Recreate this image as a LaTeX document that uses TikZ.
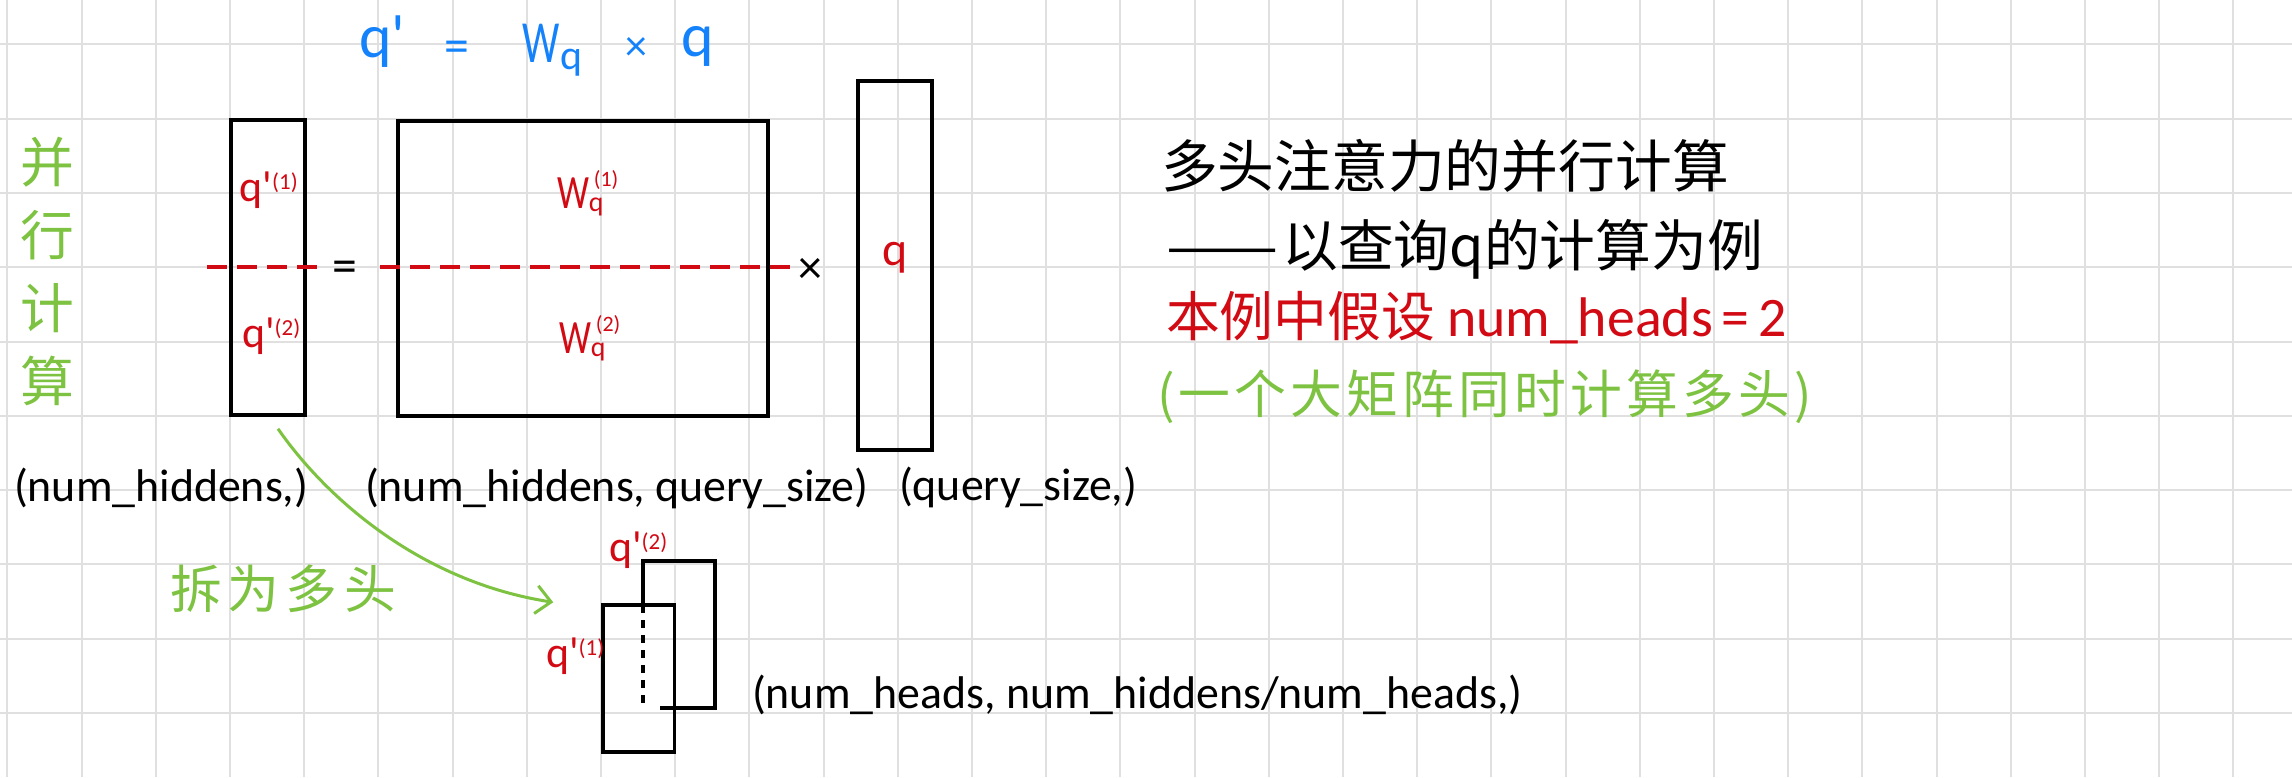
\documentclass[tikz,border=0pt]{standalone}
\usepackage{graphicx}
\usepackage{fontspec}
\setmainfont{Carlito}
\newfontfamily\cjk{Noto Sans CJK SC}
\usetikzlibrary{arrows.meta,calc}
\definecolor{gridc}{RGB}{224,224,224}
\definecolor{hblue}{RGB}{20,130,250}
\definecolor{hred}{RGB}{210,10,20}
\definecolor{hgreen}{RGB}{125,195,65}
\newcommand\setfs[1]{\fontsize{#1}{#1}\selectfont}
\newcommand\qp[1]{q\textquotesingle\raisebox{12bp}{\setfs{23}(#1)}}
\newcommand\Wq[1]{\scalebox{0.75}[1]{W}\makebox[0pt][l]{\raisebox{-3bp}{\setfs{28}q}}\hspace{5bp}\raisebox{22bp}{\setfs{22}(#1)}}
\begin{document}
\begin{tikzpicture}[x=1bp,y=-1bp,
  gridline/.style={draw=gridc,line width=2bp},
  mbox/.style={draw=black,line width=3.5bp,inner sep=0pt,rectangle},
  boxline/.style={draw=black,line width=3.5bp},
  txt/.style={inner sep=0pt,outer sep=0pt},
  reddash/.style={draw=hred,line width=3.5bp,dash pattern=on 20bp off 10bp},
  garrow/.style={draw=hgreen,line width=3bp,-{Straight Barb[length=15bp,width=28bp]}}]
\fill[white] (0,0) rectangle (2292,777);
\useasboundingbox (0,0) rectangle (2292,777);
% grid
\foreach \i in {0,...,30} \draw[gridline] ({7.4+74.2*\i},0) -- ({7.4+74.2*\i},777);
\foreach \j in {0,...,9} \draw[gridline] (0,{44.3+74.3*\j}) -- (2292,{44.3+74.3*\j});
% blue formula
\node[txt,hblue,anchor=base west,font=\setfs{62}] (fq1) at (359.5,58) {q\textquotesingle};
\node[txt,hblue,anchor=base,font=\setfs{50}] (feq) at (457,63) {=};
\node[txt,hblue,anchor=base west,font=\setfs{60}] (fW) at (522,63) {\scalebox{0.7}[1]{W}};
\node[txt,hblue,anchor=base west,font=\setfs{42}] (fWq) at (560.5,70) {q};
\node[txt,hblue,anchor=base,font=\setfs{44}] (ftimes) at (636,60.6) {×};
\node[txt,hblue,anchor=base west,font=\setfs{62}] (fq2) at (681.5,57) {q};
% vertical green
\node[txt,hgreen,align=center,font={\cjk\fontsize{54}{73}\selectfont}] (par) at (47,271.5) {并\\行\\计\\算};
% boxes
\node[mbox,minimum width=74bp,minimum height=295bp] (qcol) at (268,267.5) {};
\node[mbox,minimum width=370bp,minimum height=295bp] (Wbox) at (583,268.5) {};
\node[mbox,minimum width=74bp,minimum height=369bp] (qbox) at (895,265.5) {};
\node[inner sep=0pt,minimum width=72bp,minimum height=147bp] (b2) at (679,634.5) {};
\draw[boxline] (b2.west |- 0,605) -- (b2.north west) -- (b2.north east) -- (b2.south east) -- ($(b2.south east)+(-55,0)$);
\draw[boxline,dash pattern=on 8bp off 7bp] (b2.west |- 0,605) -- (b2.south west);
\node[mbox,minimum width=71.5bp,minimum height=147bp] (b1) at (638.75,678.5) {};
% red labels
\node[txt,hred,anchor=base west,font=\setfs{44}] (l1) at (239.5,201) {\qp{1}};
\node[txt,hred,anchor=base west,font=\setfs{44}] (l2) at (242,347) {\qp{2}};
\node[txt,hred,anchor=base west,font=\setfs{48}] (w1) at (557,208) {\Wq{1}};
\node[txt,hred,anchor=base west,font=\setfs{48}] (w2) at (559,353) {\Wq{2}};
\node[txt,hred,anchor=base,font=\setfs{48}] (ql) at (895,265) {q};
\node[txt,hred,anchor=base west,font=\setfs{44}] (lb2) at (609,561) {\qp{2}};
\node[txt,hred,anchor=base west,font=\setfs{44}] (lb1) at (546,667) {\qp{1}};
% dashed split line, = and x
\draw[reddash] (207,267) -- (321,267);
\draw[reddash] (380,267) -- (790,267);
\node[txt,anchor=base,font=\setfs{50}] (eq) at (344.5,282.5) {=};
\node[txt,anchor=base,font=\setfs{48}] (times) at (810.5,283) {×};
% shapes
\node[txt,anchor=base west,font=\setfs{46}] (d1) at (14,501) {(num\_hiddens,)};
\node[txt,anchor=base west,font=\setfs{46}] (d2) at (365,501) {(num\_hiddens, query\_size)};
\node[txt,anchor=base west,font=\setfs{46}] (d3) at (899,500) {(query\_size,)};
\node[txt,anchor=base west,font=\setfs{46}] (d4) at (752,708) {(num\_heads, num\_hiddens/num\_heads,)};
% titles
\node[txt,anchor=base west,font={\cjk\setfs{57}}] (t1) at (1161,187) {多头注意力的并行计算};
\node[txt,anchor=base west,font={\cjk\setfs{56}}] (t2) at (1166,266) {\scalebox{1.2}[1]{——}\hspace{4bp}以查询q的计算为例};
\node[txt,anchor=base west,hred,font={\cjk\setfs{54}}] (t3) at (1166,336) {本例中假设\hspace{12bp}{\rmfamily\setfs{56}num\_heads\hspace{9bp}=\hspace{9bp}2}};
\node[txt,anchor=base west,hgreen,font={\cjk\setfs{52}\addfontfeature{LetterSpace=8}}] (t4) at (1157,413) {(一个大矩阵同时计算多头)};
% split arrow
\node[txt,anchor=base west,hgreen,font={\cjk\setfs{52}\addfontfeature{LetterSpace=12}}] (split) at (170,608) {拆为多头};
\draw[garrow] ($(qcol.south)+(10,12)$) .. controls ($(qcol.south)+(60,84)$) and ($(b1.north west)+(-178,-21)$) .. ($(b1.north west)+(-48,-1)$);
\end{tikzpicture}
\end{document}
